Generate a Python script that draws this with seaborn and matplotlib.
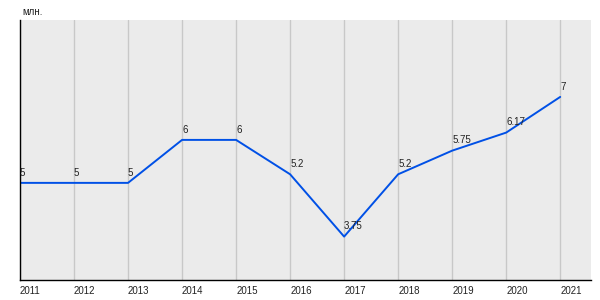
import matplotlib
matplotlib.use("Agg")
import matplotlib.pyplot as plt
import seaborn as sns
import pandas as pd

years = [2011, 2012, 2013, 2014, 2015, 2016, 2017, 2018, 2019, 2020, 2021]
values = [5, 5, 5, 6, 6, 5.2, 3.75, 5.2, 5.75, 6.17, 7]
value_labels = ["5", "5", "5", "6", "6", "5.2", "3.75", "5.2", "5.75", "6.17", "7"]
unit_label = "млн."

sns.set_theme(style="white")
plt.rcParams["font.family"] = ["Liberation Sans", "DejaVu Sans"]

df = pd.DataFrame({"year": years, "value": values})

fig = plt.figure(figsize=(6, 3), dpi=100)
ax = fig.add_axes([20/600, 1-280/300, 571/600, 260/300])
ax.set_facecolor("#EBEBEB")

sns.lineplot(data=df, x="year", y="value", ax=ax, color="#0050E6", linewidth=1.4)

for x, y, t in zip(years, values, value_labels):
    ax.text(x, y + 0.12, t, fontsize=7, ha="left", va="bottom", color="#222222")

ax.set_xlim(2011, 2021.57)
ax.set_ylim(2.74, 8.79)
ax.set_xticks(years)
ax.set_xticklabels([str(y) for y in years], fontsize=7, ha="left", color="#222222")
ax.set_yticks([])
ax.tick_params(axis="x", length=0, pad=4)
ax.grid(axis="x", color="#C8C8C8", linewidth=1)
ax.set_axisbelow(True)
ax.set_xlabel("")
ax.set_ylabel("")
for s in ["top", "right"]:
    ax.spines[s].set_visible(False)
for s in ["left", "bottom"]:
    ax.spines[s].set_color("black")
    ax.spines[s].set_linewidth(1)

fig.text(22/600, 1-12/300, unit_label, fontsize=7, ha="left", va="center", color="#222222")

fig.savefig("out.png", dpi=100, facecolor="white")
